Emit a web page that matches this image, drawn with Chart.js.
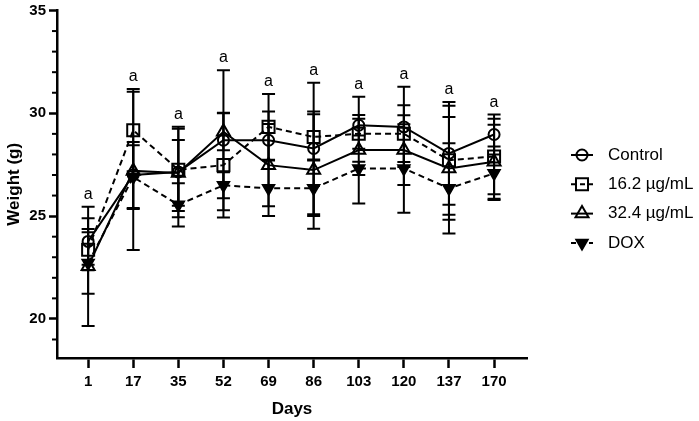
<!DOCTYPE html>
<html>
<head>
<meta charset="utf-8">
<title>Weight over days</title>
<script src="https://cdn.jsdelivr.net/npm/chart.js@4.4.1/dist/chart.umd.min.js"></script>
<style>
    html, body { margin: 0; padding: 0; background: #fff; }
    #weightChart { display: block; }
</style>
</head>
<body>
<canvas id="weightChart" width="699" height="421"></canvas>
<script>
// Days of measurement (x categories)
const days = ['1', '17', '35', '52', '69', '86', '103', '120', '137', '170'];

// Mean body weight (g) and SD per group
const control   = [23.77, 27.00, 27.15, 28.69, 28.69, 28.29, 29.42, 29.34, 28.05, 28.97];
const controlSd = [1.13, 1.60, 2.20, 3.40, 1.40, 3.20, 0.50, 1.95, 2.50, 0.97];

const dose16   = [23.37, 29.18, 27.25, 27.48, 29.34, 28.85, 29.01, 29.01, 27.72, 27.90];
const dose16Sd = [1.00, 2.00, 2.00, 2.55, 1.60, 1.10, 0.73, 1.38, 2.65, 1.84];

const dose32   = [22.56, 27.20, 27.10, 29.10, 27.48, 27.24, 28.21, 28.21, 27.32, 27.64];
const dose32Sd = [2.90, 3.85, 1.60, 0.90, 2.00, 2.85, 2.60, 1.70, 2.50, 1.80];

const dox   = [22.72, 26.90, 25.55, 26.50, 26.35, 26.35, 27.32, 27.32, 26.35, 27.08];
const doxSd = [1.50, 1.55, 1.05, 0.63, 1.35, 1.35, 0.32, 2.15, 2.20, 1.30];

// Significance letters above each day
const sigLabels = ['a', 'a', 'a', 'a', 'a', 'a', 'a', 'a', 'a', 'a'];

// Y axis ticks
const yMajorTicks = [20, 25, 30, 35];
const yMinorTicks = [19, 21, 22, 23, 24, 26, 27, 28, 29, 31, 32, 33, 34];

const FONT = "'Liberation Sans', Arial, sans-serif";
Chart.defaults.font.family = FONT;
Chart.defaults.color = '#000';

function toPoints(values) {
    return values.map((v, i) => ({ x: i, y: v }));
}

const series = [
    { label: 'Control',    values: control, sd: controlSd, style: 'circle',   radius: 5.5, rotation: 0,   dash: [],     fill: 'rgba(0,0,0,0)' },
    { label: '16.2 µg/mL', values: dose16,  sd: dose16Sd,  style: 'rect',     radius: 8.5, rotation: 0,   dash: [6, 4], fill: 'rgba(0,0,0,0)' },
    { label: '32.4 µg/mL', values: dose32,  sd: dose32Sd,  style: 'triangle', radius: 7.5, rotation: 0,   dash: [],     fill: 'rgba(0,0,0,0)' },
    { label: 'DOX',        values: dox,     sd: doxSd,     style: 'triangle', radius: 6.5, rotation: 180, dash: [6, 4], fill: '#000' }
];

/**
 * Error bars (mean ± SD) drawn under the lines
 */
const errorBars = {
    id: 'errorBars',
    beforeDatasetsDraw(chart) {
        const { ctx, scales: { x, y } } = chart;
        ctx.save();
        ctx.strokeStyle = '#000';
        ctx.lineWidth = 2;
        series.forEach(s => {
            s.values.forEach((v, i) => {
                const px = x.getPixelForValue(i);
                const top = y.getPixelForValue(v + s.sd[i]);
                const bot = y.getPixelForValue(v - s.sd[i]);
                ctx.beginPath();
                ctx.moveTo(px, top);
                ctx.lineTo(px, bot);
                ctx.moveTo(px - 6.5, top);
                ctx.lineTo(px + 6.5, top);
                ctx.moveTo(px - 6.5, bot);
                ctx.lineTo(px + 6.5, bot);
                ctx.stroke();
            });
        });
        ctx.restore();
    }
};

/**
 * Minor y ticks, significance letters and the legend on the right
 */
const extras = {
    id: 'extras',
    afterDraw(chart) {
        const { ctx, scales: { x, y }, chartArea } = chart;
        ctx.save();

        // minor ticks
        ctx.strokeStyle = '#000';
        ctx.lineWidth = 2;
        yMinorTicks.forEach(t => {
            const py = y.getPixelForValue(t);
            ctx.beginPath();
            ctx.moveTo(chartArea.left - 5, py);
            ctx.lineTo(chartArea.left, py);
            ctx.stroke();
        });

        // significance letters
        ctx.font = '16px ' + FONT;
        ctx.fillStyle = '#000';
        ctx.textAlign = 'center';
        ctx.textBaseline = 'alphabetic';
        sigLabels.forEach((lab, i) => {
            const top = Math.max(...series.map(s => s.values[i] + s.sd[i]));
            ctx.fillText(lab, x.getPixelForValue(i), y.getPixelForValue(top) - 8);
        });

        // legend
        const lx = 582, ly0 = 155, step = 29.3;
        series.forEach((s, k) => {
            const cy = ly0 + k * step;
            ctx.setLineDash(s.dash.length ? [5, 4] : []);
            ctx.lineWidth = 2;
            ctx.beginPath();
            ctx.moveTo(lx - 11, cy);
            ctx.lineTo(lx + 11, cy);
            ctx.stroke();
            ctx.setLineDash([]);
            ctx.fillStyle = s.fill;
            ctx.strokeStyle = '#000';
            Chart.helpers.drawPoint(ctx, {
                pointStyle: s.style,
                radius: s.radius,
                rotation: s.rotation,
                borderWidth: 2
            }, lx, cy);
            ctx.fillStyle = '#000';
            ctx.font = '17px ' + FONT;
            ctx.textAlign = 'left';
            ctx.textBaseline = 'middle';
            ctx.fillText(s.label, 608, cy);
        });

        ctx.restore();
    }
};

const weightChart = new Chart(document.getElementById('weightChart'), {
    type: 'line',
    data: {
        datasets: series.map(s => ({
            label: s.label,
            data: toPoints(s.values),
            borderColor: '#000',
            borderWidth: 2,
            borderDash: s.dash,
            tension: 0,
            fill: false,
            pointStyle: s.style,
            pointRadius: s.radius,
            pointRotation: s.rotation,
            pointBorderWidth: 2,
            pointBorderColor: '#000',
            pointBackgroundColor: s.fill
        }))
    },
    options: {
        responsive: false,
        animation: false,
        layout: {
            padding: { top: 8, right: 172, left: 0, bottom: 0 }
        },
        plugins: {
            legend: { display: false },
            tooltip: { enabled: false }
        },
        scales: {
            x: {
                type: 'linear',
                min: -0.69,
                max: 9.73,
                afterBuildTicks: scale => {
                    scale.ticks = days.map((d, i) => ({ value: i }));
                },
                afterFit: scale => {
                    scale.height = 63;
                },
                ticks: {
                    color: '#000',
                    padding: 5,
                    maxRotation: 0,
                    font: { size: 15, weight: 'bold' },
                    callback: value => days[value]
                },
                grid: {
                    drawOnChartArea: false,
                    drawTicks: true,
                    tickLength: 10,
                    tickWidth: 2.5,
                    tickColor: '#000'
                },
                border: { display: true, color: '#000', width: 2.5 },
                title: {
                    display: true,
                    text: 'Days',
                    color: '#000',
                    font: { size: 17, weight: 'bold' },
                    padding: { top: 0, bottom: 1 }
                }
            },
            y: {
                type: 'linear',
                min: 18.1,
                max: 35,
                afterBuildTicks: scale => {
                    scale.ticks = yMajorTicks.map(v => ({ value: v }));
                },
                afterFit: scale => {
                    scale.width = 57;
                    scale.paddingTop = 0;
                    scale.paddingBottom = 0;
                },
                ticks: {
                    color: '#000',
                    padding: 3,
                    font: { size: 15, weight: 'bold' }
                },
                grid: {
                    drawOnChartArea: false,
                    drawTicks: true,
                    tickLength: 8,
                    tickWidth: 2.5,
                    tickColor: '#000'
                },
                border: { display: true, color: '#000', width: 2.5 },
                title: {
                    display: true,
                    text: 'Weight (g)',
                    color: '#000',
                    font: { size: 17, weight: 'bold' },
                    padding: { top: 4, bottom: 0 }
                }
            }
        }
    },
    plugins: [errorBars, extras]
});
</script>
</body>
</html>
